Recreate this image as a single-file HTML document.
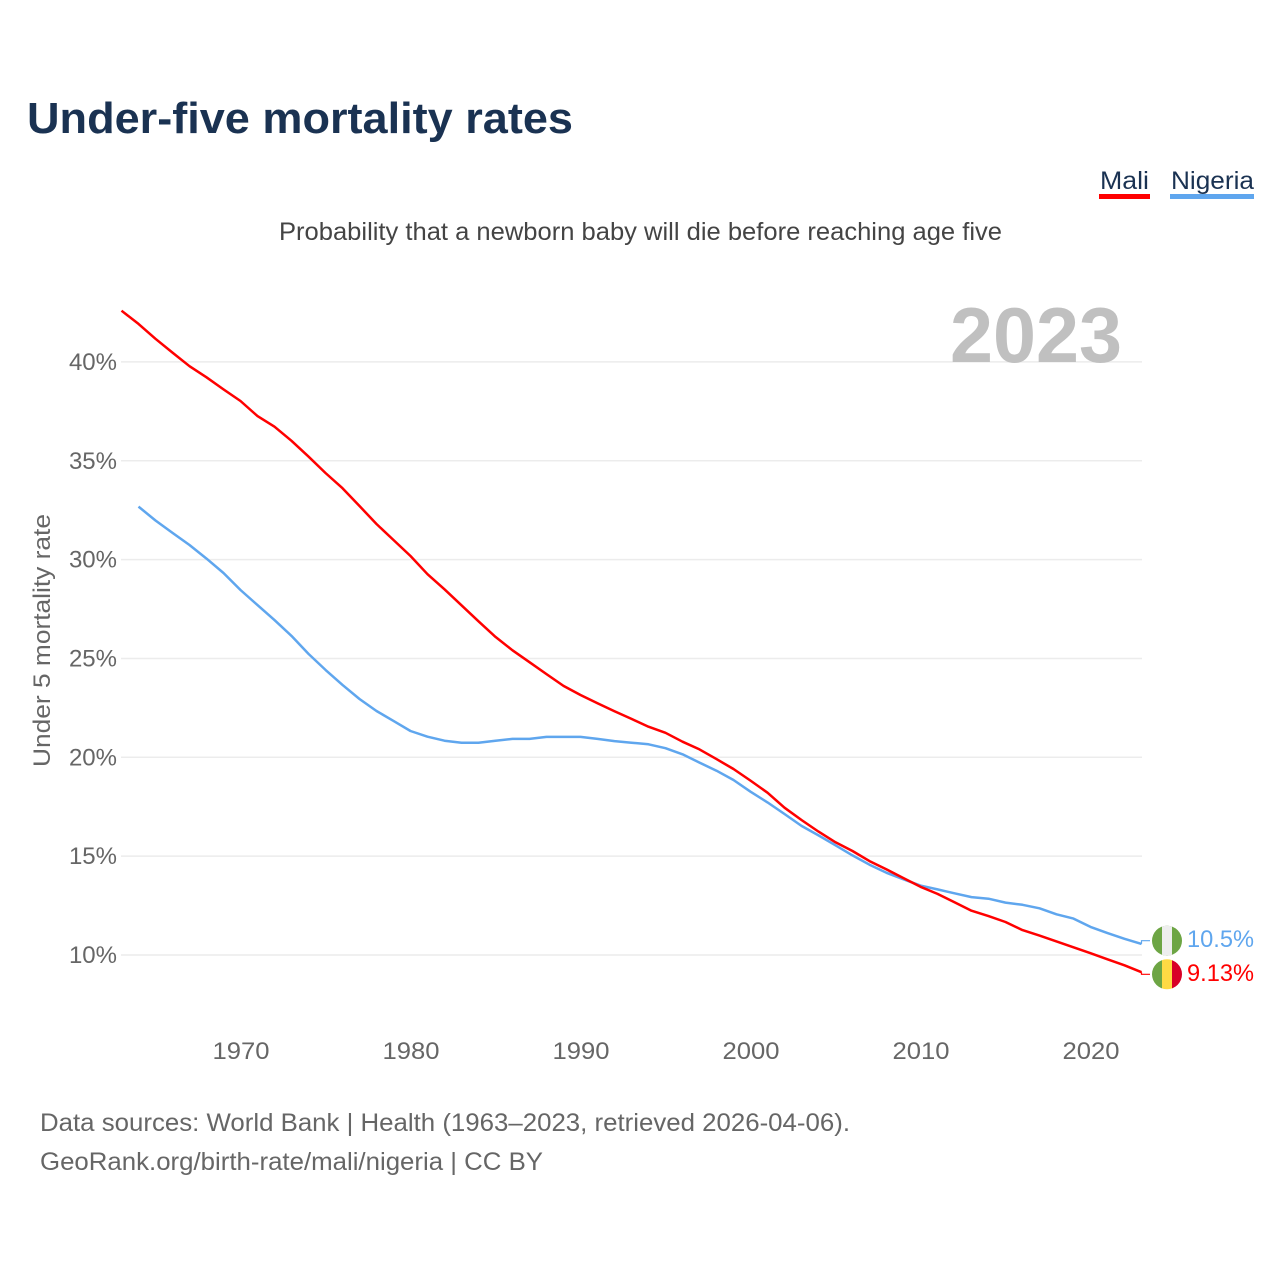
<!DOCTYPE html>
<html lang="en">
<head>
<meta charset="utf-8">
<title>Under-five mortality rates</title>
<style>
  html, body { margin: 0; padding: 0; background: #fff; }
  svg { display: block; font-family: "Liberation Sans", sans-serif; }
</style>
</head>
<body>
<svg id="chart" xmlns="http://www.w3.org/2000/svg" width="1280" height="1280" viewBox="0 0 1280 1280">
  <rect x="0" y="0" width="1280" height="1280" fill="#ffffff"/>
  <text x="27" y="133" font-size="44" font-weight="700" fill="#1a3252" textLength="546" lengthAdjust="spacingAndGlyphs">Under-five mortality rates</text>
  <text x="1100" y="189" font-size="25" fill="#1a3252" textLength="49" lengthAdjust="spacingAndGlyphs">Mali</text>
  <rect x="1099" y="194" width="51" height="5" fill="#ff0000"/>
  <text x="1171" y="189" font-size="25" fill="#1a3252" textLength="83" lengthAdjust="spacingAndGlyphs">Nigeria</text>
  <rect x="1170" y="194" width="84" height="5" fill="#5fa6ee"/>
  <text x="279" y="240" font-size="25" fill="#444444" textLength="723" lengthAdjust="spacingAndGlyphs">Probability that a newborn baby will die before reaching age five</text>
  <g id="grid"></g>
  <g id="y-ticks"></g>
  <g id="x-ticks"></g>
  <text x="950" y="362" font-size="78" font-weight="700" fill="#c0c0c0" textLength="172" lengthAdjust="spacingAndGlyphs">2023</text>
  <text transform="translate(50 767) rotate(-90)" x="0" y="0" font-size="24" fill="#666666" textLength="253" lengthAdjust="spacingAndGlyphs">Under 5 mortality rate</text>
  <g id="series"></g>
  <g id="end-markers">
    <g>
      <clipPath id="clip-ng"><circle cx="1167" cy="940.7" r="15"/></clipPath>
      <g clip-path="url(#clip-ng)">
        <rect x="1152" y="925" width="32" height="32" fill="#6da544"/>
        <rect x="1162" y="925" width="10" height="32" fill="#eeeeee"/>
      </g>
    </g>
    <g>
      <clipPath id="clip-ml"><circle cx="1167" cy="974.3" r="15"/></clipPath>
      <g clip-path="url(#clip-ml)">
        <rect x="1152" y="959" width="10" height="32" fill="#6da544"/>
        <rect x="1162" y="959" width="10" height="32" fill="#ffda44"/>
        <rect x="1172" y="959" width="12" height="32" fill="#d80027"/>
      </g>
    </g>
  </g>
  <text x="40" y="1131" font-size="25" fill="#666666" textLength="810" lengthAdjust="spacingAndGlyphs">Data sources: World Bank | Health (1963–2023, retrieved 2026-04-06).</text>
  <text x="40" y="1170" font-size="25" fill="#666666" textLength="503" lengthAdjust="spacingAndGlyphs">GeoRank.org/birth-rate/mali/nigeria | CC BY</text>
</svg>
<script>
const maliStartYear = 1963;
const nigeriaStartYear = 1964;
const maliValues = [42.59,41.92,41.17,40.47,39.78,39.22,38.61,38.02,37.26,36.72,36.01,35.21,34.38,33.61,32.71,31.80,30.99,30.18,29.26,28.50,27.69,26.88,26.09,25.41,24.81,24.21,23.61,23.15,22.73,22.33,21.94,21.55,21.24,20.79,20.40,19.91,19.41,18.82,18.21,17.45,16.83,16.24,15.70,15.26,14.75,14.33,13.89,13.45,13.09,12.67,12.24,11.97,11.67,11.26,10.98,10.69,10.39,10.09,9.78,9.48,9.13];
const nigeriaValues = [32.68,31.98,31.35,30.74,30.05,29.32,28.46,27.70,26.94,26.14,25.23,24.42,23.66,22.95,22.34,21.84,21.33,21.04,20.84,20.74,20.74,20.84,20.93,20.93,21.03,21.03,21.03,20.93,20.82,20.74,20.66,20.46,20.15,19.73,19.32,18.85,18.26,17.72,17.13,16.53,16.05,15.55,15.04,14.57,14.16,13.83,13.51,13.32,13.12,12.93,12.85,12.65,12.54,12.36,12.06,11.84,11.42,11.11,10.82,10.56];
const yTickValues = [10,15,20,25,30,35,40];
const xTickValues = [1970,1980,1990,2000,2010,2020];
const maliEndLabel = "9.13%";
const nigeriaEndLabel = "10.5%";

const SVG_NS = "http://www.w3.org/2000/svg";
function xScale(year) { return 240.5 + (year - 1970) * 17; }
function yScale(value) { return 955 - (value - 10) * 19.77; }
function make(tag, parent, attrs, text) {
  const el = document.createElementNS(SVG_NS, tag);
  for (const k in attrs) el.setAttribute(k, attrs[k]);
  if (text !== undefined) el.textContent = text;
  parent.appendChild(el);
  return el;
}
const gridGroup = document.getElementById("grid");
const yTickGroup = document.getElementById("y-ticks");
const xTickGroup = document.getElementById("x-ticks");
const seriesGroup = document.getElementById("series");
const markerGroup = document.getElementById("end-markers");

yTickValues.forEach(function (v) {
  const line = make("line", gridGroup, { x1: 121, x2: 1142, y1: yScale(v), y2: yScale(v), stroke: "#ececec", "stroke-width": 1.5 });
  
  
  const label = make("text", yTickGroup, { x: 117, y: yScale(v) + 8, "text-anchor": "end", "font-size": 24, fill: "#666666" }, v + "%");
  
  
});
xTickValues.forEach(function (year) {
  const label = make("text", xTickGroup, { x: xScale(year) - 28, y: 1059, "font-size": 24, fill: "#666666", textLength: 57, lengthAdjust: "spacingAndGlyphs" }, String(year));
  
  
});
function linePath(values, startYear) {
  return values.map(function (v, i) {
    return (i ? "L" : "M") + xScale(startYear + i).toFixed(1) + " " + yScale(v).toFixed(1);
  }).join(" ");
}
const nigeriaLine = make("path", seriesGroup, { d: linePath(nigeriaValues, nigeriaStartYear), fill: "none", stroke: "#5fa6ee", "stroke-width": 2.5, "stroke-linejoin": "round" });


const maliLine = make("path", seriesGroup, { d: linePath(maliValues, maliStartYear), fill: "none", stroke: "#ff0000", "stroke-width": 2.5, "stroke-linejoin": "round" });



const endX = xScale(2023);
const nigeriaEndY = yScale(nigeriaValues[nigeriaValues.length - 1]);
const maliEndY = yScale(maliValues[maliValues.length - 1]);
const nigeriaStub = make("path", markerGroup, { d: "M" + endX + " " + nigeriaEndY.toFixed(1) + " V940.7 H1150", fill: "none", stroke: "#5fa6ee", "stroke-width": 1.2 });


const maliStub = make("path", markerGroup, { d: "M" + endX + " " + maliEndY.toFixed(1) + " V974.3 H1150", fill: "none", stroke: "#ff0000", "stroke-width": 1.2 });


const nigeriaLabel = make("text", markerGroup, { x: 1187, y: 947, "font-size": 24, fill: "#5fa6ee", textLength: 67, lengthAdjust: "spacingAndGlyphs" }, nigeriaEndLabel);


const maliLabel = make("text", markerGroup, { x: 1187, y: 981, "font-size": 24, fill: "#ff0000", textLength: 67, lengthAdjust: "spacingAndGlyphs" }, maliEndLabel);


</script>
</body>
</html>
